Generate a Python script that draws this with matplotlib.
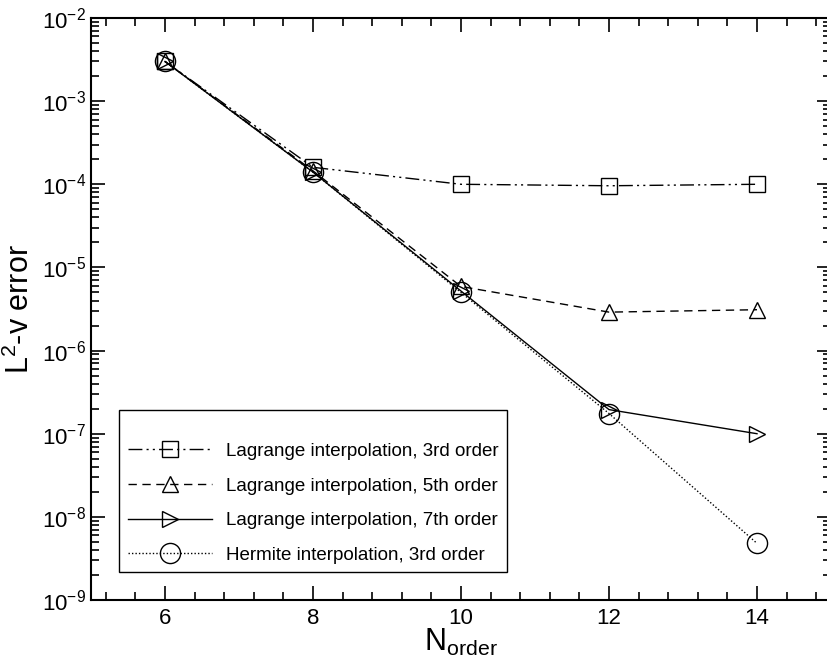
import numpy as np
import matplotlib
matplotlib.use('Agg')
import matplotlib.pyplot as plt
from matplotlib.ticker import MultipleLocator, LogLocator, NullFormatter

plt.rcParams['font.family'] = ['Liberation Sans', 'DejaVu Sans']
plt.rcParams['mathtext.fontset'] = 'custom'
plt.rcParams['mathtext.rm'] = 'Liberation Sans'
plt.rcParams['mathtext.it'] = 'Liberation Sans:italic'
plt.rcParams['mathtext.bf'] = 'Liberation Sans:bold'

# polynomial order and L2 error for each interpolation scheme
n_order = [6, 8, 10, 12, 14]
lagrange3 = [3.0e-3, 1.6e-4, 1.0e-4, 9.6e-5, 1.0e-4]
lagrange5 = [3.0e-3, 1.45e-4, 5.9e-6, 2.9e-6, 3.1e-6]
lagrange7 = [3.0e-3, 1.4e-4, 5.2e-6, 1.95e-7, 1.0e-7]
hermite3 = [3.0e-3, 1.4e-4, 5.0e-6, 1.75e-7, 4.8e-9]

labels = ['Lagrange interpolation, 3rd order',
          'Lagrange interpolation, 5th order',
          'Lagrange interpolation, 7th order',
          'Hermite interpolation, 3rd order']

fig = plt.figure(figsize=(8.28, 6.72), dpi=100)
ax = fig.add_axes([91/828, 72/672, 740/828, 582/672])

ax.plot(n_order, lagrange3, color='k', lw=1, marker='s', ms=11, mfc='none', mew=1,
        dashes=(10, 3, 1.5, 3, 1.5, 3), label=labels[0])
ax.plot(n_order, lagrange5, color='k', lw=1, marker='^', ms=12, mfc='none', mew=1,
        dashes=(6, 4), label=labels[1])
ax.plot(n_order, lagrange7, color='k', lw=1, marker='>', ms=12, mfc='none', mew=1,
        ls='-', label=labels[2])
ax.plot(n_order, hermite3, color='k', lw=1, marker='o', ms=14.5, mfc='none', mew=1,
        dashes=(1, 1.5), label=labels[3])

ax.set_yscale('log')
ax.set_xlim(5, 15)
ax.set_ylim(1e-9, 1e-2)

ax.xaxis.set_major_locator(MultipleLocator(2))
ax.xaxis.set_minor_locator(MultipleLocator(0.4))
ax.yaxis.set_major_locator(LogLocator(base=10, numticks=20))
ax.yaxis.set_minor_locator(LogLocator(base=10, subs=np.arange(2, 10), numticks=20))
ax.yaxis.set_minor_formatter(NullFormatter())

ax.tick_params(which='both', direction='in', top=True, right=True, width=1.2)
ax.tick_params(which='major', length=10, labelsize=16)
ax.tick_params(axis='x', which='major', pad=6)
ax.tick_params(which='minor', length=6)
for s in ax.spines.values():
    s.set_linewidth(1.5)

ax.set_xlabel(r'N$_{\mathregular{order}}$', fontsize=22, labelpad=-1.5)
ax.set_ylabel(r'L$^{\mathregular{2}}$-v error', fontsize=22, labelpad=4)

leg = ax.legend(loc='lower left', bbox_to_anchor=(0.038, 0.048), borderaxespad=0,
                fontsize=13.5, title=' ', title_fontsize=6, handlelength=4.5,
                handletextpad=0.75, labelspacing=0.93,
                fancybox=False, edgecolor='k', framealpha=1, borderpad=0.45)
leg.get_frame().set_linewidth(1.0)

fig.savefig('out.png', dpi=100)
